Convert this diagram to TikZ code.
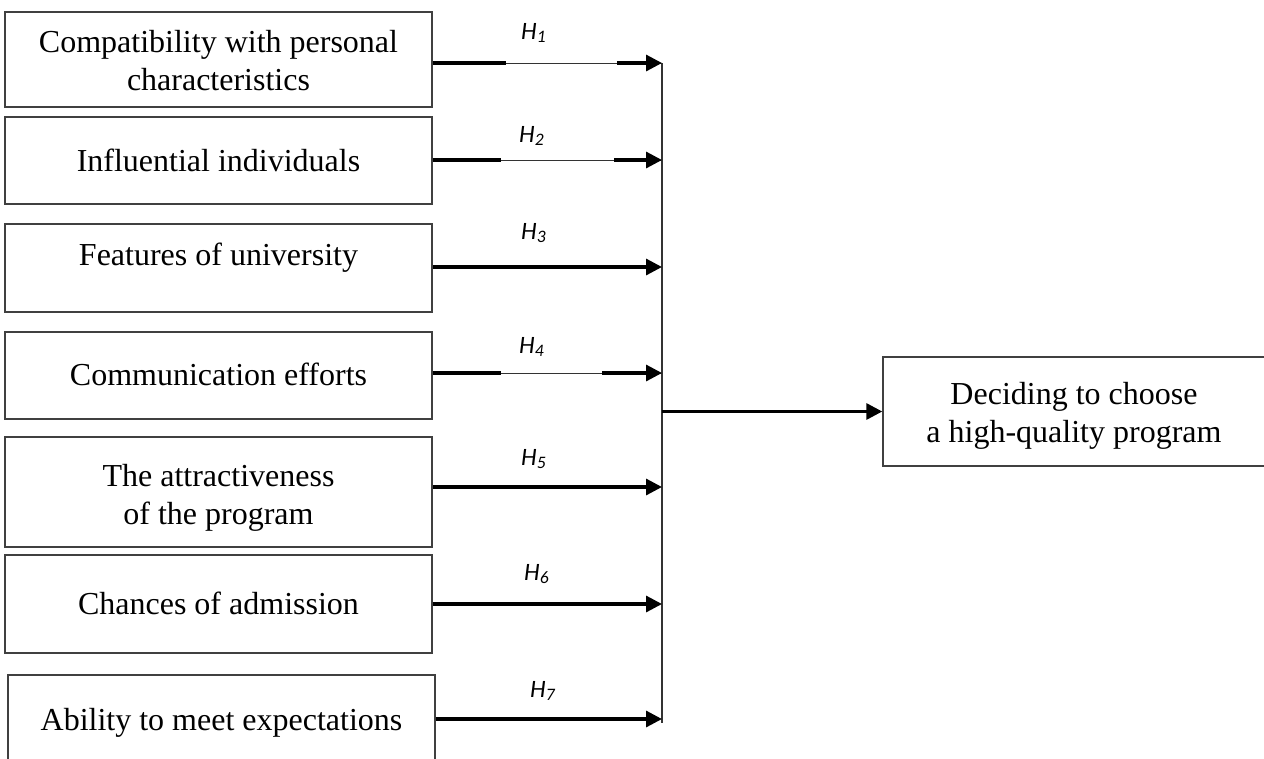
\documentclass[tikz,border=0pt]{standalone}
\usepackage{fontspec}
\setmainfont{Liberation Serif}
\newfontfamily\labfont{Carlito}
\usetikzlibrary{arrows.meta,calc}
\begin{document}
\begin{tikzpicture}[x=1pt,y=-1pt,
  box/.style={draw=black!75, line width=1.4pt, inner sep=0pt, minimum width=427pt},
  txt/.style={inner sep=0pt, align=center, font=\fontsize{32}{38}\selectfont},
  lab/.style={inner sep=0pt, font=\labfont\itshape\fontsize{25}{28}\selectfont},
  thickln/.style={line width=3.2pt, black},
  thinln/.style={line width=1pt, black!80},
  arr/.style={line width=3.2pt, black, -{Triangle[length=16pt,width=16pt]}},
  vline/.style={line width=1.4pt, black!80}]
\useasboundingbox (0,0) rectangle (1264,758);
% boxes
\node[box, minimum height=95pt] (b1) at (218.5,59.5) {};
\node[box, minimum height=87pt] (b2) at (218.5,160.5) {};
\node[box, minimum height=88pt] (b3) at (218.5,268) {};
\node[box, minimum height=87pt] (b4) at (218.5,375.5) {};
\node[box, minimum height=110pt] (b5) at (218.5,492) {};
\node[box, minimum height=98pt] (b6) at (218.5,604) {};
\node[box, minimum height=100pt] (b7) at (221.5,725) {};
\node[box, minimum width=382pt, minimum height=109pt] (goal) at (1074,411.5) {};
% texts (anchor base = baseline of the last line)
\node[txt, anchor=base] (t1) at (218.5,90) {Compatibility with personal\\characteristics};
\node[txt, anchor=base] (t2) at (218.5,171) {Influential individuals};
\node[txt, anchor=base] (t3) at (218.5,265) {Features of university};
\node[txt, anchor=base] (t4) at (218.5,385) {Communication efforts};
\node[txt, anchor=base] (t5) at (218.5,524) {The attractiveness\\of the program};
\node[txt, anchor=base] (t6) at (218.5,614) {Chances of admission};
\node[txt, anchor=base] (t7) at (221.5,730) {Ability to meet expectations};
\node[txt, anchor=base] (tg) at (1074,442) {Deciding to choose\\a high-quality program};
% labels
\node[lab, anchor=base west] (h1) at (521,39) {H\textsubscript{1}};
\node[lab, anchor=base west] (h2) at (519,142) {H\textsubscript{2}};
\node[lab, anchor=base west] (h3) at (521,239) {H\textsubscript{3}};
\node[lab, anchor=base west] (h4) at (519,353) {H\textsubscript{4}};
\node[lab, anchor=base west] (h5) at (521,465) {H\textsubscript{5}};
\node[lab, anchor=base west] (h6) at (524,580) {H\textsubscript{6}};
\node[lab, anchor=base west] (h7) at (530,697) {H\textsubscript{7}};
% junctions
\coordinate (j1) at (662,63);
\coordinate (j2) at (662,160);
\coordinate (j3) at (662,267);
\coordinate (j4) at (662,373);
\coordinate (j5) at (662,487);
\coordinate (j6) at (662,604);
\coordinate (j7) at (662,719);
\coordinate (jend) at (662,723);
\coordinate (jm) at (662,411.5);
% vertical collector
\draw[vline] (j1) -- (jend);
% H1
\draw[thinln] (b1.east |- j1) -- (j1);
\draw[thickln] (b1.east |- j1) -- ++(73,0);
\draw[arr] ($(j1)+(-45,0)$) -- (j1);
% H2
\draw[thinln] (b2.east |- j2) -- (j2);
\draw[thickln] (b2.east |- j2) -- ++(68,0);
\draw[arr] ($(j2)+(-48,0)$) -- (j2);
% H3
\draw[arr] (b3.east |- j3) -- (j3);
% H4
\draw[thinln] (b4.east |- j4) -- (j4);
\draw[thickln] (b4.east |- j4) -- ++(68,0);
\draw[arr] ($(j4)+(-60,0)$) -- (j4);
% H5-H7
\draw[arr] (b5.east |- j5) -- (j5);
\draw[arr] (b6.east |- j6) -- (j6);
\draw[arr] (b7.east |- j7) -- (j7);
% main
\draw[arr] (jm) -- (goal.west);
\end{tikzpicture}
\end{document}
